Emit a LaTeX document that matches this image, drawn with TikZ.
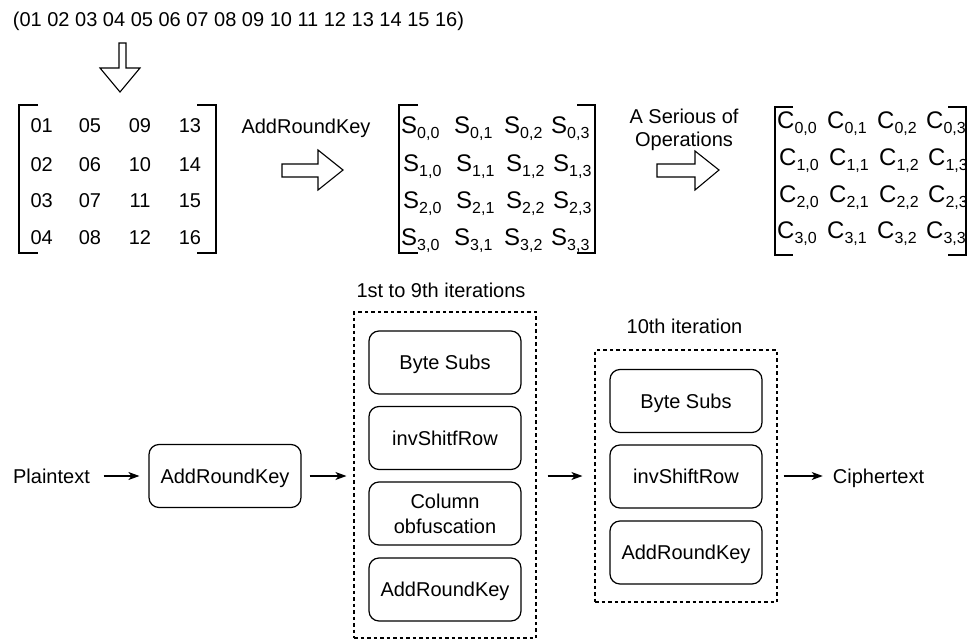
\documentclass[tikz,border=0pt]{standalone}
\usepackage{fontspec}
\setmainfont{Liberation Sans}
\usetikzlibrary{arrows.meta}
% lowered, smaller index for matrix entries
\newcommand\sbs[1]{\raisebox{-5pt}{\fontsize{16}{18}\selectfont #1}}
\begin{document}
\begin{tikzpicture}[x=1pt,y=-1pt,
  txt/.style={font=\fontsize{20}{24}\selectfont, inner sep=0pt, text height=14.3pt, text depth=0pt},
  txtm/.style={text height=14.3pt, text depth=0pt},
  ent/.style={font=\fontsize{24}{28}\selectfont, inner sep=0pt, anchor=base west},
  stepbox/.style={draw, line width=1.2pt, rounded corners=10pt, minimum width=152pt,
    minimum height=63pt, inner sep=0pt, font=\fontsize{20}{24}\selectfont},
  stagebox/.style={draw, dash pattern=on 3.5pt off 3pt, line width=1.1pt,
    minimum width=182pt, inner sep=0pt},
  bracket/.style={line width=1.2pt},
  blockarrow/.style={draw, line width=1.1pt, line join=miter},
  flow/.style={-{Stealth[length=11pt,width=8pt,inset=3pt]}, line width=1.1pt}
]
\useasboundingbox (0,0) rectangle (967,640);

% ---------- byte sequence and state matrix ----------
\node[txt] (seq) at (238.5,19.7) {(01 02 03 04 05 06 07 08 09 10 11 12 13 14 15 16)};
\draw[blockarrow] (119,43) -- (126,43) -- (126,68) -- (140,68) -- (120,92) -- (100,68) -- (119,68) -- cycle;

\draw[bracket] (38,105) -- (19,105) -- (19,253) -- (38,253);
\draw[bracket] (197,105) -- (216,105) -- (216,253) -- (197,253);
\foreach \n/\c/\r in {01/0/0,05/1/0,09/2/0,13/3/0,
                      02/0/1,06/1/1,10/2/1,14/3/1,
                      03/0/2,07/1/2,11/2/2,15/3/2,
                      04/0/3,08/1/3,12/2/3,16/3/3}{
  \pgfmathsetmacro\xx{{41.7,90,140,190}[\c]}
  \pgfmathsetmacro\yy{{125.8,164.2,200.8,237.5}[\r]}
  \node[txt] (m\r\c) at (\xx,\yy) {\n};
}

\node[txt] (arklbl) at (306,126) {AddRoundKey};
\draw[blockarrow] (282,164) -- (318,164) -- (318,150) -- (343,170) -- (318,190) -- (318,177) -- (282,177) -- cycle;

% ---------- state S ----------
\draw[bracket] (418,105) -- (399,105) -- (399,253) -- (418,253);
\draw[bracket] (577,105) -- (595,105) -- (595,253) -- (577,253);
\foreach \r in {0,...,3}{
  \foreach \c in {0,...,3}{
    \pgfmathsetmacro\xx{{401,454,504,551}[\c] + (\r==1 || \r==2 ? 2 : 0)}
    \pgfmathsetmacro\yy{{133,171,208.5,245.5}[\r]}
    \node[ent] (s\r\c) at (\xx,\yy) {S\sbs{\r,\c}};
  }
}

\node[font=\fontsize{20}{23}\selectfont, align=center, inner sep=0pt, anchor=north] (ops) at (684,109) {A Serious of\\Operations};
\draw[blockarrow] (657,164) -- (695,164) -- (695,151) -- (719,170) -- (695,190) -- (695,177) -- (657,177) -- cycle;

% ---------- state C ----------
\draw[bracket] (793,107) -- (775,107) -- (775,255) -- (793,255);
\draw[bracket] (948,107) -- (966,107) -- (966,255) -- (948,255);
\foreach \r in {0,...,3}{
  \foreach \c in {0,...,3}{
    \pgfmathsetmacro\xx{{777,827,877,926}[\c] + (\r==1 || \r==2 ? 2 : 0)}
    \pgfmathsetmacro\yy{{128,165,202,238}[\r]}
    \node[ent] (c\r\c) at (\xx,\yy) {C\sbs{\r,\c}};
  }
}

% ---------- decryption flow ----------
\node[txt] (plain) at (51.5,476) {Plaintext};
\node[stepbox, txtm] (ark) at (225,476) {AddRoundKey};

\node[stagebox, minimum height=326pt] (stA) at (445,475) {};
\node[txt] (stAlbl) at (441,290) {1st to 9th iterations};
\node[stepbox, txtm] (a1) at (445,362.5) {Byte Subs};
\node[stepbox, txtm] (a2) at (445,438) {invShitfRow};
\node[stepbox, align=center, font=\fontsize{20}{25}\selectfont] (a3) at (445,513.5) {Column\\obfuscation};
\node[stepbox, txtm] (a4) at (445,589.5) {AddRoundKey};

\node[stagebox, minimum height=252pt] (stB) at (686,476) {};
\node[txt] (stBlbl) at (684.5,326.7) {10th iteration};
\node[stepbox, txtm] (b1) at (686,401) {Byte Subs};
\node[stepbox, txtm] (b2) at (686,476.5) {invShiftRow};
\node[stepbox, txtm] (b3) at (686,552.5) {AddRoundKey};

\node[txt] (cipher) at (878.5,476) {Ciphertext};

\draw[flow, shorten <=13.5pt, shorten >=9pt] (plain.east) -- (plain.east -| ark.west);
\draw[flow, shorten <=8pt, shorten >=7pt] (ark.east) -- (ark.east -| stA.west);
\draw[flow, shorten <=11pt, shorten >=12pt] (stB.west -| stA.east) -- (stB.west);
\draw[flow, shorten <=6pt, shorten >=10pt] (stB.east) -- (stB.east -| cipher.west);
\end{tikzpicture}
\end{document}
